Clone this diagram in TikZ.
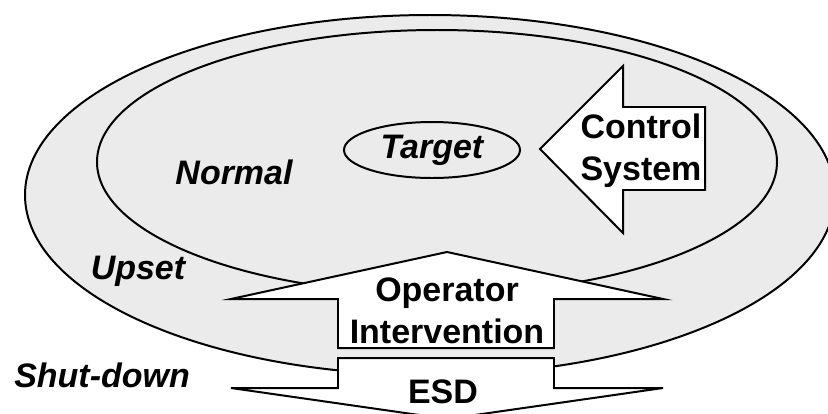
\documentclass[tikz,border=0pt]{standalone}
\usepackage{fontspec}
\setmainfont{Liberation Sans}
\usetikzlibrary{shapes.geometric}
\tikzset{
  zone/.style={draw, line width=1.7pt, fill=black!8},
  blockarrow/.style={draw, line width=1.7pt, fill=white, line join=miter},
  zonelabel/.style={font=\bfseries\itshape\fontsize{29}{36}\selectfont, inner sep=0pt, anchor=base},
  arrowlabel/.style={font=\bfseries\fontsize{29}{36}\selectfont, align=center, inner sep=0pt},
}
\begin{document}
\begin{tikzpicture}[x=0.03cm, y=-0.03cm]
  \clip (0,0) rectangle (828,413);
  % regions
  \draw[zone] (430,195) ellipse [x radius=405, y radius=180];
  \draw[zone] (437,162) ellipse [x radius=340, y radius=132];
  \node[draw, line width=1.7pt, ellipse, minimum width=5.28cm, minimum height=1.68cm, inner sep=0pt,
        font=\bfseries\itshape\fontsize{29}{36}\selectfont] (target) at (432,150) {Target};
  % block arrows
  \draw[blockarrow] (540,149) -- (623,66) -- (623,107) -- (705,107) -- (705,190) -- (623,190) -- (623,233) -- cycle;
  \draw[blockarrow] (447,252) -- (663,299) -- (554,299) -- (554,348) -- (338,348) -- (338,299) -- (231,299) -- cycle;
  \draw[blockarrow] (338,358) -- (554,358) -- (554,388) -- (663,388) -- (447,419) -- (231,388) -- (338,388) -- cycle;
  % labels
  \node[zonelabel] (normal) at (234,184) {Normal};
  \node[zonelabel] (upset) at (138,279) {Upset};
  \node[zonelabel] (shutdown) at (102,387) {Shut-down};
  \node[arrowlabel] (ctrl) at (641,151) {Control\\System};
  \node[arrowlabel] (oper) at (447,311) {Operator\\Intervention};
  \node[arrowlabel] (esd) at (443,392) {ESD};
\end{tikzpicture}
\end{document}
